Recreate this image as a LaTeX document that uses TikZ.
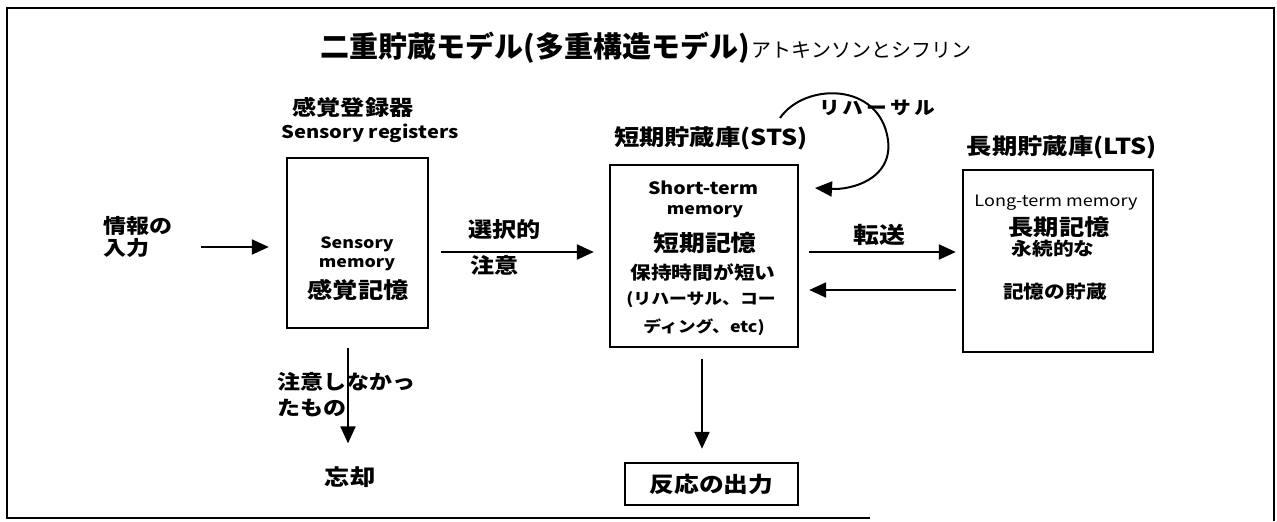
\documentclass[tikz,border=0pt]{standalone}
\usepackage{fontspec}
\setmainfont{Noto Sans CJK JP}
\newfontfamily\widefont{Noto Sans CJK JP}[FakeStretch=1.15]
\usetikzlibrary{arrows.meta}
\newcommand{\fsz}[1]{\fontsize{#1}{#1}\selectfont}
\newcommand{\fszl}[2]{\fontsize{#1}{#2}\selectfont}
\begin{document}
\begin{tikzpicture}[x=1pt,y=-1pt,
  box/.style={draw, line width=2.4pt, inner sep=0pt},
  txt/.style={inner sep=0pt, align=center},
  arr/.style={line width=2.2pt, -{Triangle[length=17pt,width=15pt]}},
  frame/.style={line width=1.8pt}
]
\useasboundingbox (0,0) rectangle (1277,522);
% outer frame
\draw[frame] (870,518) -- (7,518) -- (7,8) -- (1274,8) -- (1274,521);

% title
\node[txt] (title) at (646,48) {{\bfseries\fsz{29}二重貯蔵モデル(多重構造モデル)}\,{\fsz{20}アトキンソンとシフリン}};

% sensory registers
\node[txt, font=\widefont\bfseries\fsz{21}] (srlab) at (353,107) {感覚登録器};
\node[txt, font=\widefont\bfseries\fsz{17.5}] (srlab2) at (370,133) {Sensory registers};
\node[box, minimum width=141pt, minimum height=170pt] (sr) at (357.5,243) {};
\node[txt, font=\widefont\bfseries\fsz{15.5}] (sr1) at (357,244) {Sensory};
\node[txt, font=\widefont\bfseries\fsz{15.5}] (sr2) at (357,265) {memory};
\node[txt, font=\widefont\bfseries\fsz{22}] (sr3) at (358,290) {感覚記憶};

% input
\node[txt, align=left, anchor=west, font=\widefont\bfseries\fszl{20}{22}] (inp) at (103,237) {情報の\\入力};

% selective attention
\node[txt, anchor=west, font=\widefont\bfseries\fsz{21}] (sel1) at (468,230) {選択的};
\node[txt, anchor=west, font=\widefont\bfseries\fsz{21}] (sel2) at (470,265) {注意};

% STS
\node[txt, font=\widefont\bfseries\fsz{22}] (stslab) at (711,138) {短期貯蔵庫(STS)};
\node[box, minimum width=188pt, minimum height=182pt] (sts) at (704,256) {};
\node[txt, font=\widefont\bfseries\fsz{17}] (st1) at (703,188) {Short-term};
\node[txt, font=\widefont\bfseries\fsz{15.5}] (st2) at (705,212) {memory};
\node[txt, font=\widefont\bfseries\fsz{22.5}] (st3) at (705,243) {短期記憶};
\node[txt, font=\widefont\bfseries\fsz{18}] (st4) at (703,272) {保持時間が短い};
\node[txt, font=\widefont\bfseries\fsz{15.5}] (st5) at (701,300) {(リハーサル、コー};
\node[txt, font=\widefont\bfseries\fsz{15.5}] (st6) at (704,327) {ディング、etc)};

% rehearsal loop
\node[txt, font=\widefont\bfseries\fsz{18}] (reh) at (877,108) {リ\,ハ\,ー\,サ\,ル};
\coordinate (rhS) at (780,118);
\coordinate (rhE) at (815,188);
\draw[line width=2pt, -{Triangle[length=17pt,width=15pt]}] (rhS) .. controls (805,82) and (880,82) .. (888,140)
  .. controls (893,180) and (850,190) .. (rhE);

% LTS
\node[txt, font=\widefont\bfseries\fsz{22}] (ltslab) at (1062,147) {長期貯蔵庫(LTS)};
\node[box, minimum width=190pt, minimum height=182pt] (lts) at (1058,261) {};
\node[txt, font=\widefont\fsz{15.7}] (lt1) at (1056,203) {Long-term memory};
\node[txt, font=\widefont\bfseries\fsz{22}] (lt2) at (1059,227) {長期記憶};
\node[txt, font=\widefont\bfseries\fsz{18}] (lt3) at (1053,249) {永続的な};
\node[txt, font=\widefont\bfseries\fsz{18}] (lt4) at (1055,292) {記憶の貯蔵};

% transfer
\node[txt, font=\widefont\bfseries\fsz{22.5}] (tr) at (879,235) {転送};
\draw[arr, shorten <=10pt, shorten >=6pt] (sts.east |- 0,252) -- (lts.west |- 0,252);
\draw[arr, shorten <=6pt, shorten >=10pt] (lts.west |- 0,290) -- (sts.east |- 0,290);

% arrows sensory
\draw[arr, shorten <=29pt, shorten >=17pt] (inp.east |- 0,247) -- (sr.west |- 0,247);
\draw[arr, shorten <=12pt, shorten >=15pt] (sr.east |- 0,252) -- (sts.west |- 0,252);

% forgetting
\node[txt, align=left, anchor=west, font=\widefont\bfseries\fszl{20}{26}] (noatt) at (277,395) {注意しなかっ\\たもの};
\node[txt, font=\widefont\bfseries\fsz{22}] (forget) at (350,477) {忘却};
\draw[arr, shorten <=19pt, shorten >=23pt] (sr.south -| 348,0) -- (forget.north -| 348,0);

% output
\node[box, minimum width=173pt, minimum height=42pt, font=\widefont\bfseries\fsz{21.5}] (out) at (711.5,484) {反応の出力};
\draw[arr, shorten <=11pt, shorten >=13pt] (sts.south -| 702,0) -- (out.north -| 702,0);
\end{tikzpicture}
\end{document}
